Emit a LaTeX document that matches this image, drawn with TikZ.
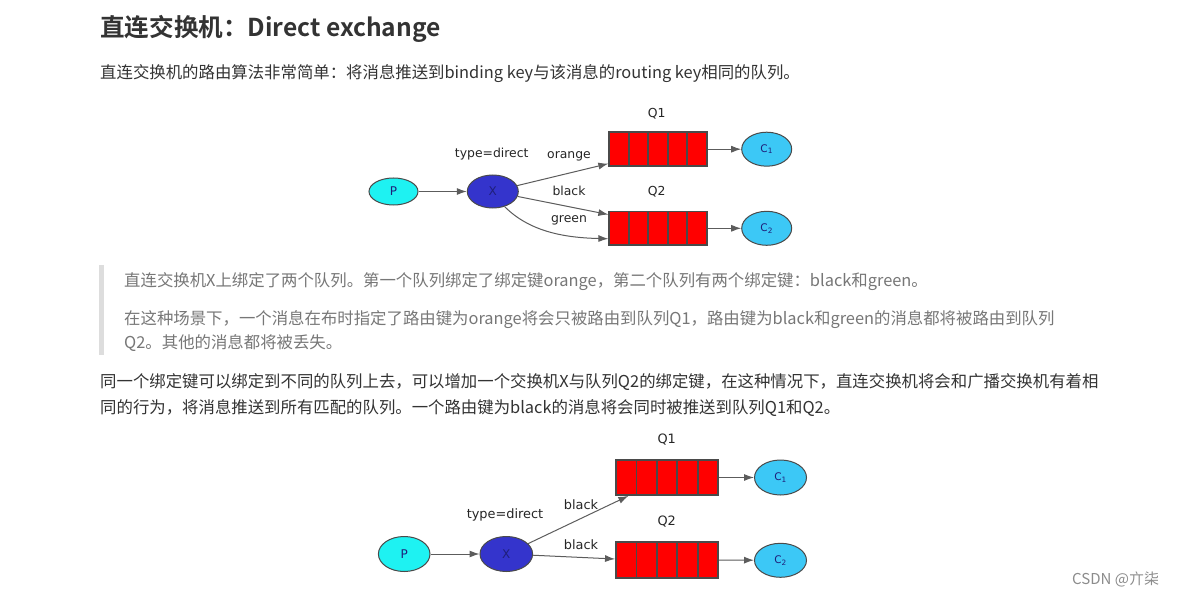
\documentclass[tikz,border=0pt]{standalone}
\usepackage{fontspec}
\setmainfont{Noto Sans CJK SC}[BoldFont={Noto Sans CJK SC Bold}]
\newfontfamily\dvs{DejaVu Sans}
\usetikzlibrary{shapes.geometric,arrows.meta,calc}
\definecolor{txtdark}{HTML}{333333}
\definecolor{txtgrey}{HTML}{777777}
\definecolor{bargrey}{HTML}{DDDDDD}
\definecolor{pcyan}{HTML}{1EF2F2}
\definecolor{xblue}{HTML}{3434CC}
\definecolor{cblue}{HTML}{3CC8F6}
\definecolor{qred}{HTML}{FF0000}
\definecolor{edgegrey}{HTML}{4A4A4A}
\begin{document}
\begin{tikzpicture}[x=1pt,y=-1pt,
  txt/.style={anchor=base west,inner sep=0pt,text=txtdark,font=\fontsize{16.4}{16.4}\selectfont},
  qtxt/.style={txt,text=txtgrey},
  dlabel/.style={inner sep=0pt,text=black!85,font=\dvs\fontsize{12.4}{12.4}\selectfont},
  dlabelb/.style={dlabel,font=\dvs\fontsize{12.9}{12.9}\selectfont},
  ell/.style={ellipse,draw=edgegrey,line width=1pt,inner sep=0pt,text=xblue!60!black,font=\dvs\fontsize{12}{12}\selectfont},
  pnode/.style={ell,fill=pcyan},
  xnode/.style={ell,fill=xblue},
  cnode/.style={ell,fill=cblue,font=\dvs\fontsize{10.5}{10.5}\selectfont},
  cell/.style={rectangle,draw=edgegrey,fill=qred,line width=1.8pt,inner sep=0pt},
  conn/.style={draw=edgegrey!90,line width=1pt,-{Latex[length=10pt,width=7pt]}},
]
\useasboundingbox[fill=white] (0,0) rectangle (1197,596);

% ---------- text ----------
\node[txt,font=\fontsize{24.6}{24.6}\selectfont\bfseries] (title) at (100,37) {直连交换机：Direct exchange};
\node[txt] (l2) at (100,79) {直连交换机的路由算法非常简单：将消息推送到binding key与该消息的routing key相同的队列。};

\fill[bargrey] (99,265) rectangle (104,355);
\node[qtxt] (q1) at (124,287) {直连交换机X上绑定了两个队列。第一个队列绑定了绑定键orange，第二个队列有两个绑定键：black和green。};
\node[qtxt] (q2) at (124,324) {在这种场景下，一个消息在布时指定了路由键为orange将会只被路由到队列Q1，路由键为black和green的消息都将被路由到队列};
\node[qtxt] (q3) at (124,348) {Q2。其他的消息都将被丢失。};

\node[txt] (p1) at (100,387) {同一个绑定键可以绑定到不同的队列上去，可以增加一个交换机X与队列Q2的绑定键，在这种情况下，直连交换机将会和广播交换机有着相};
\node[txt] (p2) at (100,413) {同的行为，将消息推送到所有匹配的队列。一个路由键为black的消息将会同时被推送到队列Q1和Q2。};

\node[txt,text=black!45,font=\fontsize{15}{15}\selectfont] (csdn) at (1072,584) {CSDN @亣柒};

% ---------- diagram 1 ----------
\node[pnode,minimum width=49pt,minimum height=27pt] (P1) at (393.5,191.5) {P};
\node[xnode,minimum width=51pt,minimum height=33pt] (X1) at (492.8,191.5) {X};
\foreach \i in {0,1,2,3,4}{
  \node[cell,minimum width=19.5pt,minimum height=33.7pt] (Q1a\i) at (619+19.5*\i,149.2) {};
  \node[cell,minimum width=19.5pt,minimum height=33.7pt] (Q2a\i) at (619+19.5*\i,228.3) {};
}
\node[cnode,minimum width=50pt,minimum height=34pt] (C1a) at (766.7,149.2) {C\textsubscript{1}};
\node[cnode,minimum width=50pt,minimum height=34pt] (C2a) at (766.7,228.3) {C\textsubscript{2}};

\node[dlabel] (lq1a) at (656.7,113.3) {Q1};
\node[dlabel] (lq2a) at (656.7,191.7) {Q2};
\node[dlabel] (ltypea) at (491.7,154.3) {type=direct};
\node[dlabel] (lorange) at (569,156) {orange};
\node[dlabel] (lblacka) at (569,191) {black};
\node[dlabel] (lgreen) at (569,220) {green};

\coordinate (e1) at ($(Q1a0.south west)+(0,-3.3)$);
\coordinate (e2) at ($(Q2a0.north west)+(0,4)$);
\coordinate (e3) at ($(Q2a0.south west)+(0,-7.3)$);
\draw[conn] (P1) -- (X1);
\draw[conn] (X1) -- (e1);
\draw[conn] (X1) -- (e2);
\draw[conn] (X1.-52) .. controls (530,232) and (565,237.7) .. (e3);
\draw[conn] (Q1a4) -- (C1a);
\draw[conn] (Q2a4) -- (C2a);

% ---------- diagram 2 ----------
\node[pnode,minimum width=51.6pt,minimum height=35pt] (P2) at (404.2,554) {P};
\node[xnode,minimum width=52.6pt,minimum height=35pt] (X2) at (506.3,554) {X};
\foreach \i in {0,1,2,3,4}{
  \node[cell,minimum width=20.46pt,minimum height=35pt] (Q1b\i) at (626.2+20.46*\i,477.5) {};
  \node[cell,minimum width=20.46pt,minimum height=35.4pt] (Q2b\i) at (626.2+20.46*\i,560) {};
}
\node[cnode,minimum width=52pt,minimum height=35pt] (C1b) at (780.5,477.5) {C\textsubscript{1}};
\node[cnode,minimum width=52pt,minimum height=34pt] (C2b) at (780.5,560.3) {C\textsubscript{2}};

\node[dlabelb] (lq1b) at (666.7,440) {Q1};
\node[dlabelb] (lq2b) at (666.7,521.7) {Q2};
\node[dlabelb] (ltypeb) at (505,515) {type=direct};
\node[dlabelb] (lblackb1) at (581,504.3) {black};
\node[dlabelb] (lblackb2) at (581,544.3) {black};

\coordinate (f1) at ($(Q1b0.south west)+(13.3,0)$);
\coordinate (f2) at ($(Q2b0.west)+(0,-1)$);
\draw[conn] (P2) -- (X2);
\draw[conn] (X2) -- (f1);
\draw[conn] (X2) -- (f2);
\draw[conn] (Q1b4) -- (C1b);
\draw[conn] (Q2b4) -- (C2b);
\end{tikzpicture}
\end{document}
